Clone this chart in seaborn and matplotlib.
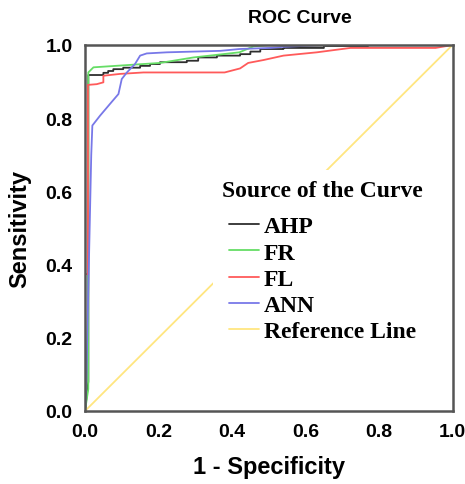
import pandas as pd
import seaborn as sns
import matplotlib.pyplot as plt

# curve points (1 - specificity, sensitivity)
ahp_fpr = [0, 0.009, 0.009, 0.05, 0.05, 0.063, 0.063, 0.077, 0.077, 0.104, 0.104, 0.15, 0.15,
           0.177, 0.177, 0.204, 0.204, 0.277, 0.277, 0.308, 0.308, 0.359, 0.359, 0.422, 0.422,
           0.45, 0.45, 0.477, 0.477, 0.54, 0.54, 0.65, 0.65, 0.77, 0.77, 1.0]
ahp_tpr = [0, 0.08, 0.918, 0.918, 0.924, 0.924, 0.929, 0.929, 0.934, 0.934, 0.938, 0.938, 0.943,
           0.943, 0.948, 0.948, 0.953, 0.953, 0.957, 0.957, 0.966, 0.966, 0.971, 0.971, 0.975,
           0.975, 0.982, 0.982, 0.989, 0.989, 0.992, 0.992, 0.997, 0.997, 1.0, 1.0]

fr_fpr = [0, 0.009, 0.009, 0.023, 0.204, 0.295, 0.34, 0.42, 0.458, 0.5, 1.0]
fr_tpr = [0, 0.06, 0.925, 0.939, 0.951, 0.966, 0.971, 0.98, 0.996, 1.0, 1.0]

fl_fpr = [0, 0, 0.008, 0.008, 0.032, 0.05, 0.05, 0.095, 0.159, 0.38, 0.422, 0.444, 0.486,
          0.54, 0.631, 0.722, 0.954, 1.0]
fl_tpr = [0, 0.374, 0.374, 0.891, 0.893, 0.898, 0.916, 0.921, 0.925, 0.925, 0.936, 0.951, 0.959,
          0.971, 0.98, 0.992, 0.992, 1.0]

ann_fpr = [0, 0.004, 0.017, 0.02, 0.041, 0.068, 0.091, 0.1, 0.114, 0.136, 0.15, 0.168, 0.223,
           0.368, 0.42, 0.504, 0.54, 0.65, 1.0]
ann_tpr = [0, 0.1, 0.70, 0.78, 0.807, 0.839, 0.866, 0.907, 0.925, 0.948, 0.971, 0.977, 0.98,
           0.984, 0.989, 0.992, 0.995, 1.0, 1.0]

ref_fpr = [0, 1]
ref_tpr = [0, 1]

models = ["AHP", "FR", "FL", "ANN", "Reference Line"]
colors = ["#2e2e2e", "#66dd66", "#ff5a5a", "#7878e8", "#ffe680"]
ticks = [0.0, 0.2, 0.4, 0.6, 0.8, 1.0]

parts = []
for name, xs, ys in zip(models,
                        [ahp_fpr, fr_fpr, fl_fpr, ann_fpr, ref_fpr],
                        [ahp_tpr, fr_tpr, fl_tpr, ann_tpr, ref_tpr]):
    parts.append(pd.DataFrame({"fpr": xs, "tpr": ys, "model": name}))
df = pd.concat(parts, ignore_index=True)

sns.set_style("white")
plt.rcParams["font.family"] = ["Liberation Sans", "DejaVu Sans"]
plt.rcParams["text.color"] = "black"
plt.rcParams["axes.labelcolor"] = "black"

fig = plt.figure(figsize=(4.65, 4.85), dpi=100)
ax = fig.add_axes([85 / 465, 73 / 485, 367.5 / 465, 366 / 485])

sns.lineplot(data=df, x="fpr", y="tpr", hue="model", hue_order=models,
             palette=dict(zip(models, colors)), sort=False, estimator=None,
             units="model", linewidth=1.3, ax=ax)

ax.set_xlim(0, 1)
ax.set_ylim(0, 1)
ax.set_xticks(ticks)
ax.set_yticks(ticks)
ax.set_xticklabels([f"{t:.1f}" for t in ticks], fontsize=14, fontweight="bold")
ax.set_yticklabels([f"{t:.1f}" for t in ticks], fontsize=14, fontweight="bold")
ax.tick_params(direction="out", length=7, width=1.5, color="#444444", pad=2,
               labelcolor="black")

for s in ax.spines.values():
    s.set_color("#555555")
    s.set_linewidth(1.8)

ax.set_xlabel("1 - Specificity", fontsize=17, fontweight="bold")
ax.set_ylabel("Sensitivity", fontsize=17, fontweight="bold")
ax.xaxis.set_label_coords(0.5, -0.153)
ax.xaxis.label.set_va("center")
ax.yaxis.set_label_coords(-0.177, 0.5)
ax.yaxis.label.set_va("center")

fig.text(300 / 465, 1 - 18.5 / 485, "ROC Curve", ha="center", va="center",
         fontsize=14, fontweight="bold")

handles, labels = ax.get_legend_handles_labels()
leg = ax.legend(handles, labels, title="Source of the Curve", loc="upper left",
                bbox_to_anchor=(0.348, 0.658), borderaxespad=0, frameon=True,
                facecolor="white", edgecolor="none", framealpha=1, fancybox=False,
                prop={"family": "Liberation Serif", "weight": "bold", "size": 17},
                title_fontproperties={"family": "Liberation Serif", "weight": "bold", "size": 17},
                handlelength=1.25, handletextpad=0.2, labelspacing=0.2, borderpad=0.4,
                alignment="left")
for line in leg.get_lines():
    line.set_linewidth(1.3)
leg._legend_handle_box.pad = 5
leg._legend_box.sep = 6

fig.savefig("out.png", dpi=100)
